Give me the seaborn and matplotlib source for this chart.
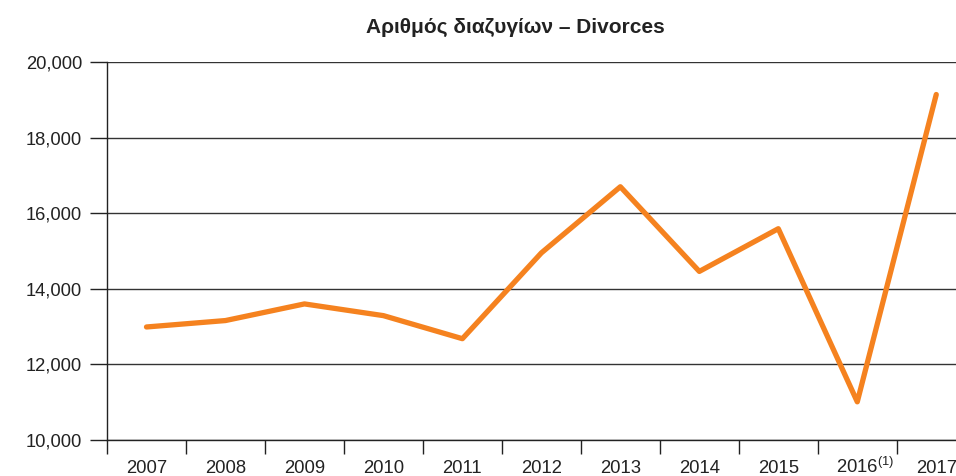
import matplotlib
matplotlib.use("Agg")
import matplotlib.pyplot as plt
import matplotlib.transforms as mtransforms
import numpy as np
import pandas as pd
import seaborn as sns
from matplotlib.ticker import FixedLocator, FuncFormatter

years = ["2007", "2008", "2009", "2010", "2011", "2012",
         "2013", "2014", "2015", "2016", "2017"]
divorces = [12990, 13160, 13600, 13290, 12680, 14950,
            16700, 14460, 15590, 11010, 19140]
tick_labels = ["2007", "2008", "2009", "2010", "2011", "2012",
               "2013", "2014", "2015", "2016$^{\\mathregular{(1)}}$", "2017"]
title = "Αριθμός διαζυγίων – Divorces"

line_color = "#F5821F"
text_color = "#222222"


def main():
    sns.set_style("white")
    plt.rcParams["font.family"] = ["Liberation Sans", "DejaVu Sans"]
    plt.rcParams["mathtext.fontset"] = "custom"
    plt.rcParams["mathtext.rm"] = "Liberation Sans"

    df = pd.DataFrame({"Year": years, "Divorces": divorces})

    fig = plt.figure(figsize=(9.56, 4.76), dpi=100)
    ax = fig.add_axes([107 / 956, 36 / 476, 1 - 107 / 956, 378 / 476])

    sns.lineplot(data=df, x="Year", y="Divorces", ax=ax, color=line_color,
                 linewidth=3.8, zorder=3, sort=False)

    ax.set_ylim(10000, 20000)
    ax.set_xlim(-0.5, 10.25)
    ax.yaxis.set_major_locator(FixedLocator(np.arange(10000, 20001, 2000)))
    ax.yaxis.set_major_formatter(FuncFormatter(lambda v, p: f"{int(v):,}"))
    ax.grid(axis="y", color="#333333", linewidth=1.0)
    ax.grid(axis="x", visible=False)

    # category boundaries as major ticks, labels centred on minor ticks
    n = len(years)
    ax.xaxis.set_major_locator(FixedLocator(np.arange(n) - 0.5))
    ax.xaxis.set_major_formatter(FuncFormatter(lambda v, p: ""))
    ax.xaxis.set_minor_locator(FixedLocator(np.arange(n)))
    ax.set_xticks(np.arange(n), tick_labels, minor=True)
    ax.tick_params(axis="x", which="major", direction="out", length=10,
                   width=1, color="#222222", bottom=True)
    ax.tick_params(axis="x", which="minor", length=0, pad=23.5,
                   labelsize=13.3, labelcolor=text_color)
    for lab in ax.get_xticklabels(minor=True):
        lab.set_verticalalignment("baseline")
    # keep "2016" centred on its slot, the footnote mark hangs to the right
    shift = mtransforms.ScaledTranslation(8 / 100, 0, fig.dpi_scale_trans)
    lab16 = ax.get_xticklabels(minor=True)[9]
    lab16.set_transform(lab16.get_transform() + shift)
    ax.tick_params(axis="y", direction="out", length=12, width=1,
                   color="#222222", left=True, labelsize=13.2,
                   labelcolor=text_color, pad=6)

    for side in ["top", "right"]:
        ax.spines[side].set_visible(False)
    for side in ["left", "bottom"]:
        ax.spines[side].set_color("#222222")
        ax.spines[side].set_linewidth(1.0)

    ax.set_xlabel("")
    ax.set_ylabel("")

    fig.text(515 / 956, 1 - 27 / 476, title, ha="center", va="center",
             fontsize=15, fontweight="bold", color=text_color)

    fig.savefig("out.png", dpi=100)


if __name__ == "__main__":
    main()
